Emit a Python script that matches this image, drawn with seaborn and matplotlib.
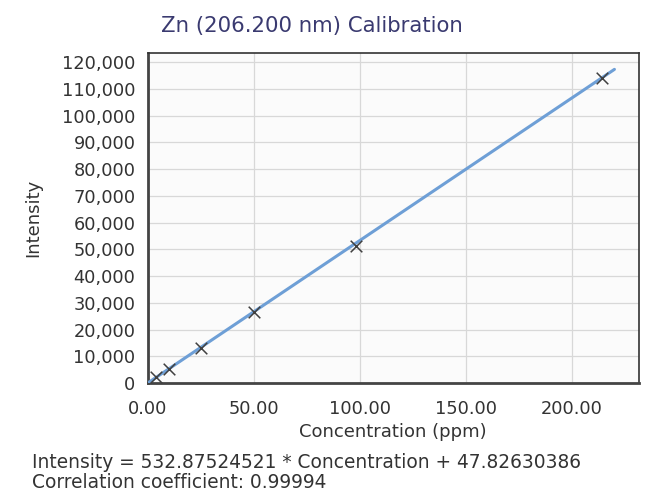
import matplotlib
matplotlib.use("Agg")
import matplotlib.pyplot as plt
import matplotlib.ticker as mticker
import seaborn as sns
import pandas as pd

# calibration standards
std_conc = [4, 10, 25, 50, 98, 214]
std_intensity = [2150, 5400, 13200, 26700, 51200, 114200]

# fitted calibration line end points
fit_conc = [0, 220]
fit_intensity = [48, 117280]

equation = "Intensity = 532.87524521 * Concentration + 47.82630386"
corr_text = "Correlation coefficient: 0.99994"

sns.set_style("white")
plt.rcParams['font.family'] = ['DejaVu Sans']

fig = plt.figure(figsize=(6.53, 4.94), dpi=100)
ax = fig.add_axes([0.2266, 0.2247, 0.752, 0.668])
ax.set_facecolor("#fbfbfb")

std_df = pd.DataFrame({"conc": std_conc, "intensity": std_intensity})
fit_df = pd.DataFrame({"conc": fit_conc, "intensity": fit_intensity})

sns.lineplot(data=fit_df, x="conc", y="intensity", ax=ax, color="#6e9fd6", linewidth=2.2, zorder=3)
sns.scatterplot(data=std_df, x="conc", y="intensity", ax=ax, marker="x", s=70,
                color="#404040", linewidth=1.1, zorder=4)

ax.set_xlim(0, 231.6)
ax.set_ylim(0, 123400)
ax.xaxis.set_major_locator(mticker.MultipleLocator(50))
ax.xaxis.set_minor_locator(mticker.MultipleLocator(12.5))
ax.yaxis.set_major_locator(mticker.MultipleLocator(10000))
ax.yaxis.set_minor_locator(mticker.MultipleLocator(2000))
ax.xaxis.set_major_formatter(mticker.FuncFormatter(lambda v, p: f"{v:.2f}"))
ax.yaxis.set_major_formatter(mticker.FuncFormatter(lambda v, p: f"{v:,.0f}"))

ax.grid(True, which="major", color="#d8d8d8", linewidth=0.9)
ax.tick_params(axis="both", which="major", direction="out", length=5, width=0.8,
               color="#999999", labelsize=12.8, labelcolor="#333333")
ax.tick_params(axis="y", which="major", pad=4)
ax.tick_params(axis="x", which="major", pad=7)
ax.tick_params(axis="both", which="minor", direction="out", length=3, width=0.6,
               color="#aaaaaa")
for side in ["left", "bottom"]:
    ax.spines[side].set_color("#444444")
    ax.spines[side].set_linewidth(2.0)
for side in ["top", "right"]:
    ax.spines[side].set_color("#333333")
    ax.spines[side].set_linewidth(1.2)

ax.set_xlabel("")
ax.set_ylabel("")
fig.text(0.478, 0.947, "Zn (206.200 nm) Calibration", ha="center", va="center",
         fontsize=15.3, color="#3a3a70")
fig.text(0.601, 0.1255, "Concentration (ppm)", ha="center", va="center",
         fontsize=13, color="#333333")
fig.text(0.051, 0.559, "Intensity", ha="center", va="center", rotation=90,
         fontsize=13, color="#333333")
fig.text(0.049, 0.0628, equation, ha="left", va="center", fontsize=13.4, color="#333333")
fig.text(0.049, 0.0223, corr_text, ha="left", va="center", fontsize=13.4, color="#333333")

fig.savefig("out.png", dpi=100)
